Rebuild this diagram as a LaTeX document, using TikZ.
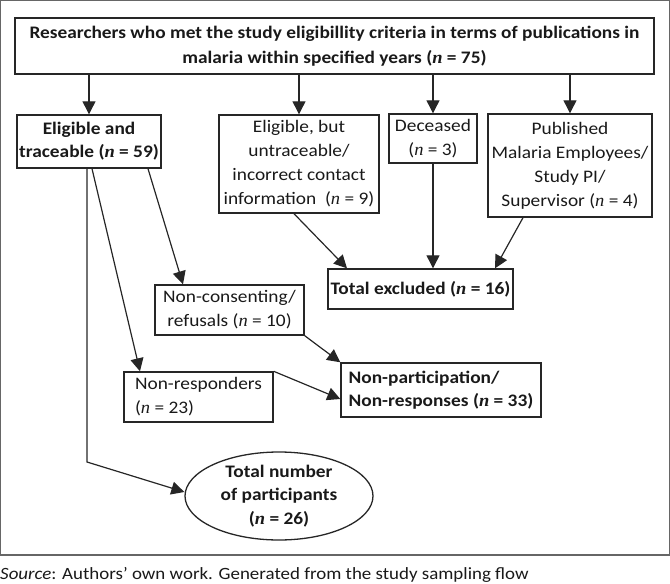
\documentclass[tikz,border=0pt]{standalone}
\usepackage{fontspec}
\setmainfont{Carlito}[FakeStretch=1.1]
\newfontfamily\nfont{Liberation Serif}[FakeStretch=1.05]
\newcommand{\nn}{{\nfont\itshape n}}
\usetikzlibrary{arrows.meta,shapes.geometric,calc}
\begin{document}
\begin{tikzpicture}[x=1pt,y=-1pt,
  every node/.style={font=\fontsize{17.6}{24}\selectfont, text=black!90},
  box/.style={draw=black!85, line width=1.4pt, inner sep=0pt, align=center},
  arr/.style={draw=black!85, line width=1.2pt, -{Triangle[length=13pt,width=13pt]}}]
\useasboundingbox (0,0) rectangle (670,584);
\draw[draw=black!60, line width=1.2pt] (0.6,0.6) rectangle (669.4,555);
% nodes
\node[box, minimum width=639pt, minimum height=56pt, font=\fontsize{17.6}{25}\selectfont\bfseries] (title) at (334.5,46)
  {Researchers who met the study eligibillity criteria in terms of publications in\\ malaria within specified years (\nn{} = 75)};
\node[box, minimum width=144pt, minimum height=53pt, font=\fontsize{17.6}{23}\selectfont\bfseries] (elig) at (89,141.5)
  {Eligible and\\traceable (\nn{} = 59)};
\node[box, minimum width=160pt, minimum height=98pt] (untr) at (299,164)
  {Eligible, but\\untraceable/\\incorrect contact\\information\ \ (\nn{} = 9)};
\node[box, minimum width=88pt, minimum height=49pt] (dec) at (433,138.5)
  {Deceased\\(\nn{} = 3)};
\node[box, minimum width=164pt, minimum height=103pt] (pub) at (570,165.5)
  {Published\\Malaria Employees/\\Study PI/\\Supervisor (\nn{} = 4)};
\node[box, minimum width=185pt, minimum height=40pt, font=\fontsize{17.6}{24}\selectfont\bfseries] (totex) at (420.5,289)
  {Total excluded (\nn{} = 16)};
\node[box, minimum width=149pt, minimum height=50pt] (noncons) at (229.5,310)
  {Non-consenting/\\refusals (\nn{} = 10)};
\node[box, minimum width=149pt, minimum height=50pt, align=left] (nonresp) at (198.5,397)
  {Non-responders\\(\nn{} = 23)};
\node[box, minimum width=200pt, minimum height=54pt, align=left, font=\fontsize{17.6}{23}\selectfont\bfseries] (nonpart) at (441,390)
  {Non-participation/\\Non-responses (\nn{} = 33)};
\node[ellipse, draw=black!85, line width=1.3pt, inner sep=0pt, minimum width=188pt, minimum height=88pt, align=center, font=\fontsize{17.6}{23.5}\selectfont\bfseries] (part) at (279,496)
  {Total number\\of participants\\(\nn{} = 26)};
\node[anchor=west, inner sep=0pt, font=\fontsize{17.2}{18}\selectfont] (src) at (0,575)
  {\textit{Source}: Authors’ own work. Generated from the study sampling flow};
% connectors
\draw[arr] (title.south -| elig.north) -- (elig.north);
\draw[arr] (title.south -| untr.north) -- (untr.north);
\draw[arr] (title.south -| dec.north) -- (dec.north);
\draw[arr] (title.south -| pub.north) -- (pub.north);
\draw[arr] ([xshift=-5pt]untr.south) -- ([xshift=-73.5pt]totex.north);
\draw[arr] (dec.south) -- (dec.south |- totex.north);
\draw[arr] ([xshift=-47pt]pub.south) -- ([xshift=74.5pt]totex.north);
\draw[arr] ([xshift=59pt]elig.south) -- ([xshift=-46.5pt]noncons.north);
\draw[arr] ([xshift=3pt]elig.south) -- ([xshift=-58.5pt]nonresp.north);
\draw[arr] (noncons.south east) -- (nonpart.north west);
\draw[arr] (nonresp.north east) -- ([yshift=-9pt]nonpart.west);
\coordinate (bend) at (87,462);
\draw[arr] ([xshift=-2pt]elig.south) -- (bend) -- ([yshift=4pt]part.west);
\end{tikzpicture}
\end{document}
